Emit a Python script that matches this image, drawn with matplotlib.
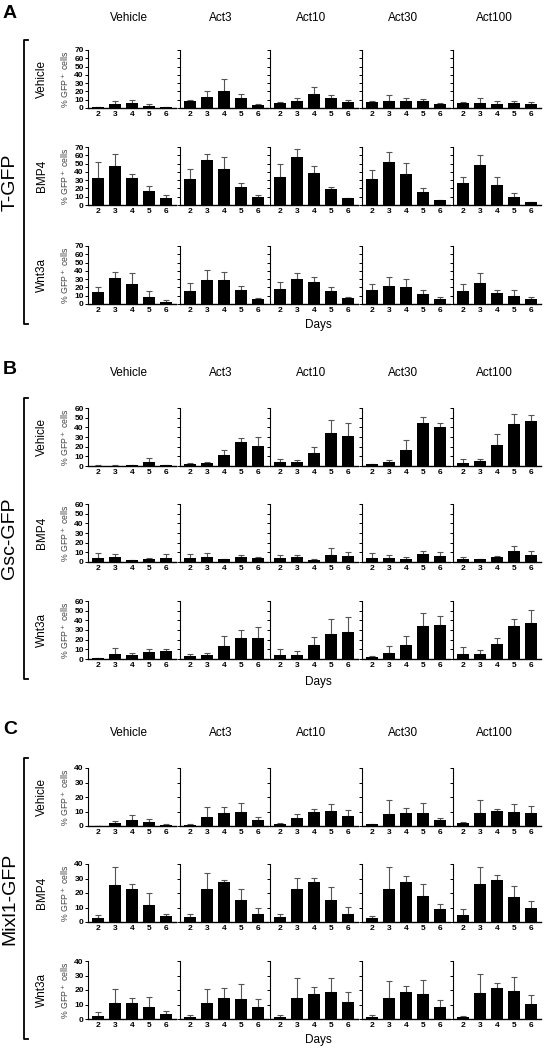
import numpy as np
import matplotlib.pyplot as plt

plt.rcParams['font.family'] = ['Liberation Sans', 'DejaVu Sans']

days = [2, 3, 4, 5, 6]
treatments = ['Vehicle', 'Act3', 'Act10', 'Act30', 'Act100']
conditions = ['Vehicle', 'BMP4', 'Wnt3a']
reporters = ['T-GFP', 'Gsc-GFP', 'Mixl1-GFP']
panel_letters = ['A', 'B', 'C']
y_max = [70, 60, 40]

# T-GFP  (rows: Vehicle, BMP4, Wnt3a; each row = 5 treatments x 5 days)
t_vehicle_mean = [[1, 5, 5.5, 2.5, 1.2], [8, 13, 21, 11.5, 4], [6.5, 9, 17, 12.5, 7],
                  [7, 8.5, 9, 8, 4.5], [6, 6.5, 5, 5.5, 4.5]]
t_vehicle_sd = [[0.8, 4, 4.5, 2, 0.5], [2, 7, 14, 6, 1], [1.2, 2.5, 8, 3, 3],
                [1.3, 7.5, 3, 3, 1.8], [1, 5, 3.5, 3.5, 2.5]]
t_bmp4_mean = [[33, 47, 33, 16.5, 8], [31, 54, 44, 22, 10], [34, 58, 39, 19, 8],
               [31, 52, 38, 16, 6], [26, 48, 24, 10, 3.5]]
t_bmp4_sd = [[19, 15, 4, 7, 4], [12, 7, 14, 5, 2], [15, 9, 8, 3, 0.5],
             [11, 12, 13, 4, 0.5], [8, 12, 10, 4, 0.5]]
t_wnt3a_mean = [[15, 31, 24, 9, 3], [16, 29, 29, 17, 6], [18, 30, 26, 16, 7],
                [17, 22, 21, 12, 6.5], [16, 25, 13, 10, 6.5]]
t_wnt3a_sd = [[6, 8, 13, 7, 2], [9, 12, 10, 4.5, 1], [9, 7, 7, 4, 2],
              [7, 10, 9, 5, 1.5], [8, 12, 4, 7, 2]]

# Gsc-GFP
gsc_vehicle_mean = [[0.3, 0.5, 1, 4, 0.7], [2, 3, 11, 25, 21], [4, 4.5, 13, 34, 31],
                    [2, 4, 17, 45, 40], [3.5, 5, 22, 43, 47]]
gsc_vehicle_sd = [[0.3, 0.3, 0.4, 4, 0.2], [1, 1, 6, 4, 9], [3, 1.5, 7, 14, 14],
                  [0.5, 2, 10, 6, 4], [3.5, 2, 11, 11, 6]]
gsc_bmp4_mean = [[4.5, 5, 2, 3.5, 4.5], [3.8, 4.8, 2.8, 4.8, 4], [3.8, 4.8, 2.4, 7, 6],
                 [4, 4, 3.5, 8.3, 6], [3.5, 2.8, 4.8, 11, 7]]
gsc_bmp4_sd = [[5, 3, 0.4, 1, 3.5], [4, 4, 0.3, 2.2, 1.5], [3, 2, 0.6, 7, 4.7],
               [5.3, 3, 1.5, 3.4, 4], [2, 0.7, 1.2, 6, 4.7]]
gsc_wnt3a_mean = [[1, 5.6, 4, 7.4, 7.8], [2.8, 4, 13, 22, 22], [4, 4.6, 15, 26, 28],
                  [2, 6.7, 15, 34, 35], [5, 5.6, 16, 34, 37]]
gsc_wnt3a_sd = [[0.4, 5.4, 2, 3.2, 2.2], [2.2, 2, 11, 8, 11], [6, 3.2, 8, 15, 15],
                [1, 6.3, 9, 14, 10], [7, 3.4, 6, 7, 14]]

# Mixl1-GFP
mix_vehicle_mean = [[0.2, 2, 4.4, 2.6, 1], [0.7, 6, 9.3, 9.5, 4.2], [1.2, 5.3, 9.5, 10.5, 6.7],
                    [1.4, 8, 9.3, 9.3, 4.2], [1.9, 8.8, 10.5, 9.5, 8.8]]
mix_vehicle_sd = [[0.1, 1.7, 3, 2, 0.6], [0.9, 7, 3.5, 6.5, 2.1], [1.1, 3.3, 1.9, 4.5, 4.3],
                  [0.2, 10, 3, 6.5, 1.6], [1.1, 8.9, 0.9, 5.5, 4.7]]
mix_bmp4_mean = [[2.8, 25.5, 22.8, 11.7, 3.9], [3.5, 23, 27.4, 15, 5.7], [3.5, 23, 27.4, 15.4, 5.7],
                 [2.8, 23, 27.8, 17.7, 8.7], [4.8, 26.4, 28.7, 17.5, 10]]
mix_bmp4_sd = [[2, 12.5, 3.6, 8.1, 1.8], [1.8, 10.8, 1.6, 7.5, 3.9], [2.2, 7.6, 2.9, 8.6, 4.9],
               [1.1, 15, 3.7, 8.3, 3.7], [3.9, 11.5, 3.7, 7.5, 4.7]]
mix_wnt3a_mean = [[2.4, 10.8, 10.8, 8.2, 3.5], [1.6, 11.3, 14.8, 14, 8], [1.4, 14.8, 17.2, 18.6, 12],
                  [1.4, 14.8, 18.6, 17.2, 8.5], [1.2, 18, 21.4, 19, 10.4]]
mix_wnt3a_sd = [[2.6, 10.2, 4, 7.3, 1.9], [1.2, 9.4, 6.6, 10.2, 5.9], [1.2, 13.7, 4.8, 9.9, 6.8],
                [1.2, 11.6, 4.2, 9.8, 4.9], [1.2, 13, 3.1, 10, 6.1]]

panels = [
    [(t_vehicle_mean, t_vehicle_sd), (t_bmp4_mean, t_bmp4_sd), (t_wnt3a_mean, t_wnt3a_sd)],
    [(gsc_vehicle_mean, gsc_vehicle_sd), (gsc_bmp4_mean, gsc_bmp4_sd), (gsc_wnt3a_mean, gsc_wnt3a_sd)],
    [(mix_vehicle_mean, mix_vehicle_sd), (mix_bmp4_mean, mix_bmp4_sd), (mix_wnt3a_mean, mix_wnt3a_sd)],
]

W, H = 548, 1050
fig = plt.figure(figsize=(W / 100, H / 100), dpi=100)

col_left = [88, 180, 270, 362, 453]
ax_w, ax_h = 88, 58
row_top = [[50, 147, 246], [408, 504, 601], [768, 864, 961]]
title_y = [18, 373, 733]
letter_y = [14, 369, 729]
days_y = [325, 682, 1040]


def fx(x):
    return x / W


def fy(y):
    return 1 - y / H


for p in range(3):
    for j, name in enumerate(treatments):
        fig.text(fx(col_left[j] + 41), fy(title_y[p]), name, ha='center', va='center', fontsize=8.5)
    fig.text(fx(10), fy(letter_y[p]), panel_letters[p], ha='center', va='center',
             fontsize=14, fontweight='bold')
    fig.text(fx(318), fy(days_y[p]), 'Days', ha='center', va='center', fontsize=8.5)

    top = row_top[p][0] - 10
    bot = row_top[p][2] + ax_h + 20
    fig.add_artist(plt.Line2D([fx(28), fx(24), fx(24), fx(28)], [fy(top), fy(top), fy(bot), fy(bot)],
                              color='black', lw=1.3))
    fig.text(fx(10), fy((top + bot) / 2), reporters[p], rotation=90, ha='center', va='center', fontsize=14)

    for i, cond in enumerate(conditions):
        means, sds = panels[p][i]
        yc = row_top[p][i] + ax_h / 2
        fig.text(fx(42), fy(yc), cond, rotation=90, ha='center', va='center', fontsize=8.5)
        fig.text(fx(65), fy(yc), '% GFP$^+$ cells', rotation=90, ha='center', va='center',
                 fontsize=6.3, color='#444444')
        for j in range(5):
            ax = fig.add_axes([fx(col_left[j]), fy(row_top[p][i] + ax_h), fx(ax_w), ax_h / H])
            m = np.array(means[j])
            s = np.array(sds[j])
            ax.bar(days, m, width=0.7, color='black', zorder=2)
            ax.errorbar(days, m, yerr=[np.zeros_like(s), s], fmt='none', ecolor='#555555',
                        elinewidth=0.8, capsize=2.5, capthick=0.8, zorder=1)
            ax.set_xlim(1.43, 6.57)
            ax.set_ylim(0, y_max[p])
            ax.set_yticks(np.arange(0, y_max[p] + 1, 10))
            ax.set_xticks(days)
            ax.set_xticklabels([str(d) for d in days], fontsize=6, fontweight='bold')
            ax.tick_params(axis='x', length=0, pad=2)
            ax.tick_params(axis='y', length=2, width=0.7, pad=1, labelsize=6)
            if j == 0:
                for lab in ax.get_yticklabels():
                    lab.set_fontweight('bold')
            else:
                ax.set_yticklabels([])
            ax.spines['top'].set_visible(False)
            ax.spines['right'].set_visible(False)
            ax.spines['left'].set_linewidth(0.8)
            ax.spines['bottom'].set_linewidth(1.0)
            ax.patch.set_alpha(0)

fig.savefig('out.png', dpi=100)
